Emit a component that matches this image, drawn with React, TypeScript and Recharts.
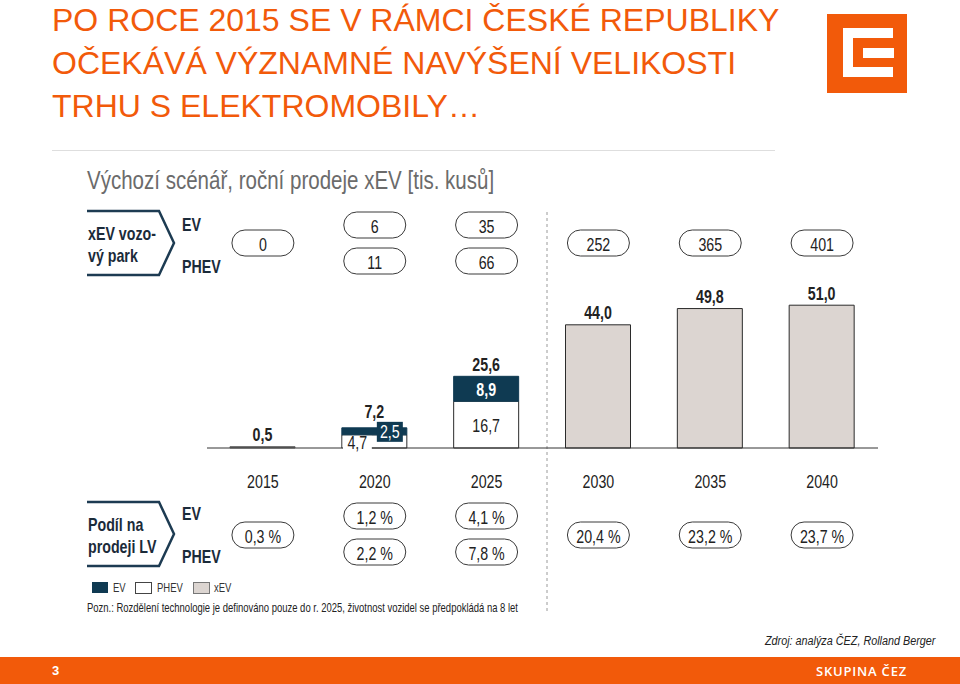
import React from "react";
import { Bar, BarChart, Cell, LabelList, XAxis, YAxis } from "recharts";

const years = ["2015", "2020", "2025", "2030", "2035", "2040"];
const evSales = [null, 2.5, 8.9, null, null, null];
const phevSales = [null, 4.7, 16.7, null, null, null];
const xevSales = [0.5, null, null, 44.0, 49.8, 51.0];
const totalSales = [0.5, 7.2, 25.6, 44.0, 49.8, 51.0];

const fleetEv = [null, 6, 35, null, null, null];
const fleetPhev = [null, 11, 66, null, null, null];
const fleetXev = [0, null, null, 252, 365, 401];

const shareEv = [null, 1.2, 4.1, null, null, null];
const sharePhev = [null, 2.2, 7.8, null, null, null];
const shareXev = [0.3, null, null, 20.4, 23.2, 23.7];

const ORANGE = "#f25a0a";
const NAVY = "#0f3a52";
const XEV_GREY = "#dcd5d1";
const INK = "#222";
const LABEL_INK = "#1b2b3a";
const ARIAL = "'Liberation Sans', Arial, sans-serif";
// no narrow font installed, so squeeze Liberation Sans horizontally
const SQUEEZE = 0.79;

const rows = years.map((year, i) => ({
  year,
  phev: phevSales[i],
  ev: evSales[i],
  xev: xevSales[i],
}));

function fmt(v: number, digits = 1) {
  return v.toFixed(digits).replace(".", ",");
}

function NText({
  x,
  y,
  size = 18,
  bold = false,
  fill = INK,
  anchor = "middle",
  children,
}: {
  x: number;
  y: number;
  size?: number;
  bold?: boolean;
  fill?: string;
  anchor?: "start" | "middle" | "end";
  children: React.ReactNode;
}) {
  return (
    <text
      transform={`translate(${x} ${y}) scale(${SQUEEZE} 1)`}
      textAnchor={anchor}
      dominantBaseline="central"
      fontFamily={ARIAL}
      fontSize={size}
      fontWeight={bold ? "bold" : "normal"}
      fill={fill}
    >
      {children}
    </text>
  );
}

function Pill({ cx, cy, text }: { cx: number; cy: number; text: string }) {
  return (
    <g>
      <rect x={cx - 31} y={cy - 13} width={62} height={26} rx={13} fill="#fff" stroke="#3a3a3a" strokeWidth={1} />
      <NText x={cx} y={cy + 1}>{text}</NText>
    </g>
  );
}

function YearTick(props: any) {
  const { x, payload } = props;
  const i = years.indexOf(payload.value);
  return (
    <g>
      <NText x={x} y={481}>{payload.value}</NText>
      {fleetXev[i] != null ? (
        <Pill cx={x} cy={243} text={String(fleetXev[i])} />
      ) : (
        <>
          <Pill cx={x} cy={225} text={String(fleetEv[i])} />
          <Pill cx={x} cy={261} text={String(fleetPhev[i])} />
        </>
      )}
      {shareXev[i] != null ? (
        <Pill cx={x} cy={535} text={`${fmt(shareXev[i] as number)} %`} />
      ) : (
        <>
          <Pill cx={x} cy={516} text={`${fmt(shareEv[i] as number)} %`} />
          <Pill cx={x} cy={552} text={`${fmt(sharePhev[i] as number)} %`} />
        </>
      )}
    </g>
  );
}

function EvLabel(props: any) {
  const { x, y, width, height, value } = props;
  if (value == null) return null;
  const cx = x + width / 2;
  const total = fmt(totalSales[evSales.indexOf(value)]);
  if (height >= 18) {
    return (
      <g>
        <NText x={cx} y={y + height / 2 + 1} bold fill="#fff">{fmt(value)}</NText>
        <NText x={cx} y={y - 12} bold>{total}</NText>
      </g>
    );
  }
  return (
    <g>
      <rect x={x + width - 30} y={y - 6} width={26} height={20} fill={NAVY} />
      <NText x={x + width - 17} y={y + 4} fill="#fff">{fmt(value)}</NText>
      <NText x={cx} y={y - 16} bold>{total}</NText>
    </g>
  );
}

function PhevLabel(props: any) {
  const { x, y, width, height, value } = props;
  if (value == null) return null;
  if (height >= 18) {
    return <NText x={x + width / 2} y={y + height / 2 + 1}>{fmt(value)}</NText>;
  }
  return (
    <g>
      <rect x={x + 1} y={y + 1} width={29} height={14} fill="#fff" />
      <NText x={x + 15.5} y={y + 8}>{fmt(value)}</NText>
    </g>
  );
}

function XevLabel(props: any) {
  const { x, y, width, value } = props;
  if (value == null) return null;
  return <NText x={x + width / 2} y={y - 12} bold>{fmt(value)}</NText>;
}

function Chevron({ top, label }: { top: number; label: string[] }) {
  const b = top + 64;
  const mid = top + 32;
  return (
    <g>
      <path d={`M87,${top} L159,${top} L174,${mid} L159,${b} L87,${b}`} fill="none" stroke="#1d3b52" strokeWidth={2.5} />
      {label.map((line, k) => (
        <NText key={line} x={88} y={mid - 10 + k * 22} bold anchor="start" fill={LABEL_INK}>
          {line}
        </NText>
      ))}
    </g>
  );
}

export default function App() {
  return (
    <div style={{ position: "absolute", left: 0, top: 0, width: 960, height: 684, background: "#fff", overflow: "hidden" }}>
      <div
        style={{
          position: "absolute",
          left: 52,
          top: -1,
          fontFamily: ARIAL,
          fontSize: 32,
          lineHeight: "43px",
          color: ORANGE,
          whiteSpace: "nowrap",
        }}
      >
        PO ROCE 2015 SE V RÁMCI ČESKÉ REPUBLIKY
        <br />
        OČEKÁVÁ VÝZNAMNÉ NAVÝŠENÍ VELIKOSTI
        <br />
        TRHU S ELEKTROMOBILY…
      </div>

      <svg width={960} height={684} style={{ position: "absolute", left: 0, top: 0 }}>
        {/* logo */}
        <rect x={827} y={14} width={80} height={79} fill={ORANGE} />
        <rect x={843} y={28} width={50} height={49} fill="#fff" />
        <rect x={853} y={38} width={41} height={29} fill={ORANGE} />
        <rect x={863} y={48} width={31} height={10} fill="#fff" />

        <line x1={52} y1={150.5} x2={775} y2={150.5} stroke="#dedede" strokeWidth={1} />
        <NText x={87} y={180} size={26} anchor="start" fill="#6b6b6b">
          Výchozí scénář, roční prodeje xEV [tis. kusů]
        </NText>

        <line x1={547} y1={212} x2={547} y2={612} stroke="#9a9a9a" strokeWidth={1} strokeDasharray="3 3" />

        <Chevron top={211} label={["xEV vozo-", "vý park"]} />
        <NText x={182} y={224} bold anchor="start" fill={LABEL_INK}>EV</NText>
        <NText x={182} y={266} bold anchor="start" fill={LABEL_INK}>PHEV</NText>

        <Chevron top={502} label={["Podíl na", "prodeji LV"]} />
        <NText x={182} y={513} bold anchor="start" fill={LABEL_INK}>EV</NText>
        <NText x={182} y={556} bold anchor="start" fill={LABEL_INK}>PHEV</NText>

        {/* legend */}
        <rect x={92} y={582} width={16} height={11} fill={NAVY} />
        <NText x={113} y={588} size={12} anchor="start" fill="#333">EV</NText>
        <rect x={135.5} y={582.5} width={16} height={11} fill="#fff" stroke="#444" />
        <NText x={157} y={588} size={12} anchor="start" fill="#333">PHEV</NText>
        <rect x={193.5} y={582.5} width={16} height={11} fill={XEV_GREY} stroke="#777" />
        <NText x={214} y={588} size={12} anchor="start" fill="#333">xEV</NText>
        <NText x={87} y={608} size={12} anchor="start">
          Pozn.: Rozdělení technologie je definováno pouze do r. 2025, životnost vozidel se předpokládá na 8 let
        </NText>
      </svg>

      <div style={{ position: "absolute", left: 0, top: 0 }}>
        <BarChart width={960} height={684} data={rows} margin={{ top: 280, right: 82, bottom: 206, left: 207 }}>
          <XAxis
            dataKey="year"
            height={30}
            interval={0}
            tickLine={false}
            axisLine={{ stroke: "#333", strokeWidth: 1 }}
            tick={(p: any) => <YearTick {...p} />}
          />
          <YAxis hide domain={[0, 60]} />
          <Bar dataKey="phev" stackId="s" barSize={65} fill="#fff" stroke="#2b2b2b" strokeWidth={1} isAnimationActive={false}>
            <LabelList dataKey="phev" content={PhevLabel} />
          </Bar>
          <Bar dataKey="ev" stackId="s" barSize={65} fill={NAVY} stroke={NAVY} strokeWidth={1} isAnimationActive={false}>
            <LabelList dataKey="ev" content={EvLabel} />
          </Bar>
          <Bar dataKey="xev" stackId="s" barSize={65} fill={XEV_GREY} stroke="#2b2b2b" strokeWidth={1} isAnimationActive={false}>
            {rows.map((r) => (
              <Cell key={r.year} fill={r.year === "2015" ? "#707070" : XEV_GREY} stroke={r.year === "2015" ? "#707070" : "#2b2b2b"} />
            ))}
            <LabelList dataKey="xev" content={XevLabel} />
          </Bar>
        </BarChart>
      </div>

      <div
        style={{
          position: "absolute",
          right: 25,
          top: 634,
          fontFamily: ARIAL,
          fontStyle: "italic",
          fontSize: 12,
          color: INK,
          transform: "scaleX(0.9)",
          transformOrigin: "right center",
          whiteSpace: "nowrap",
        }}
      >
        Zdroj: analýza ČEZ, Rolland Berger
      </div>

      <div style={{ position: "absolute", left: 0, top: 657, width: 960, height: 27, background: ORANGE }}>
        <div style={{ position: "absolute", left: 52, top: 6, fontFamily: ARIAL, fontSize: 13, fontWeight: "bold", color: "#fff" }}>3</div>
        <div
          style={{
            position: "absolute",
            right: 53,
            top: 5,
            fontFamily: "'Open Sans', sans-serif",
            fontSize: 13,
            fontWeight: 600,
            letterSpacing: 0.8,
            color: "#fff",
          }}
        >
          SKUPINA ČEZ
        </div>
      </div>
    </div>
  );
}
